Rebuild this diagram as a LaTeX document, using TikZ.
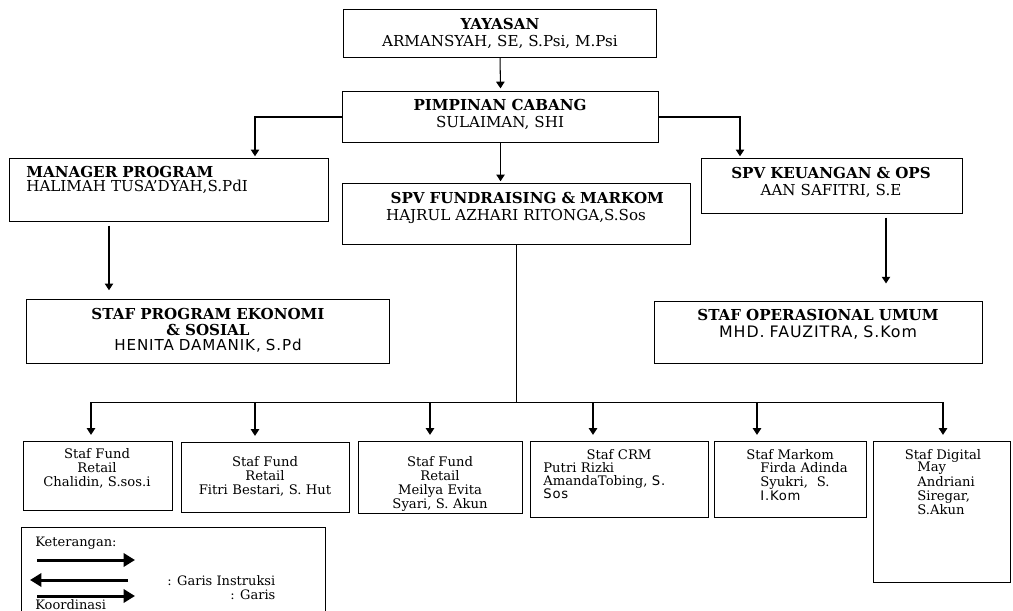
\documentclass[tikz,border=0pt]{standalone}
\usepackage{fontspec}
\setmainfont{DejaVu Serif}
\newfontfamily\dsans{DejaVu Sans}[LetterSpace=6]
\usetikzlibrary{arrows.meta,calc}
\tikzset{
    kotak/.style 2 args={draw, line width=0.6pt, anchor=north west, inner sep=0pt,
      minimum width=#1*0.02cm, minimum height=#2*0.02cm},
    teks/.style={inner sep=0pt, anchor=north, align=center, text width=#1*0.02cm},
    hd/.style={font=\fontsize{8.6}{9.7}\selectfont},
    kecil/.style={font=\fontsize{7.5}{8}\selectfont},
    lg/.style={font=\fontsize{7.4}{9}\selectfont, inner sep=0pt, anchor=base west},
    panah/.style={-{Triangle[length=3.8pt,width=4.8pt]}, line width=0.6pt},
    tebal/.style={-{Triangle[length=6.5pt,width=7.5pt]}, line width=1.7pt},
  }
\begin{document}
\begin{tikzpicture}[x=0.02cm, y=-0.02cm]
	\useasboundingbox (0,0) rectangle (1013,611);
	\clip (0,0) rectangle (1013,611);

	%YAYASAN et PIMPINAN
	\node[kotak={313}{48}] (yys) at (343,9) {};
	\node[teks=300, hd] (t-yys) at (500,18) {{\bfseries YAYASAN}\\ARMANSYAH, SE, S.Psi, M.Psi};
	\node[kotak={316}{51}] (pc) at (342,91) {};
	\node[teks=300, hd] (t-pc) at (500,99) {{\bfseries PIMPINAN CABANG}\\SULAIMAN, SHI};
	\draw[panah, shorten >=1.5pt] (yys.south) -- (pc.north);

	%MANAGER, SPV
	\node[kotak={319}{63}] (mp) at (9,158) {};
	\node[teks=310, hd, align=left, anchor=north west, font=\fontsize{8.6}{8.2}\selectfont] (t-mp) at (26,166)
	  {{\bfseries MANAGER PROGRAM}\\HALIMAH TUSA'DYAH,S.PdI};
	\node[kotak={348}{61}] (sfm) at (342,183) {};
	\node[teks=340, hd] (t-sfm) at (516,192) {{\hspace*{0.45cm}\bfseries SPV FUNDRAISING \& MARKOM}\\HAJRUL AZHARI RITONGA,S.Sos};
	\node[kotak={261}{55}] (sk) at (701,158) {};
	\node[teks=250, hd] (t-sk) at (831,167) {{\bfseries SPV KEUANGAN \& OPS}\\AAN SAFITRI, S.E};

	\coordinate (mp-in) at ($(mp.north west)+(246,0)$);
	\coordinate (sk-in) at ($(sk.north west)+(39,0)$);
	\draw[panah, shorten >=1pt] (pc.west) -| (mp-in);
	\draw[panah, shorten >=1pt] (pc.east) -| (sk-in);
	\draw[panah, shorten >=1pt] (pc.south) -- (pc.south |- sfm.north);

	%STAF
	\node[kotak={363}{64}] (spe) at (26,299) {};
	\node[teks=350, hd, font=\fontsize{8.6}{8.8}\selectfont] (t-spe) at (208,308)
	  {{\bfseries STAF PROGRAM EKONOMI}\\{\bfseries \& SOSIAL}\\{\dsans HENITA DAMANIK, S.Pd}};
	\node[kotak={328}{62}] (sou) at (654,301) {};
	\node[teks=320, hd] (t-sou) at (818,309)
	  {{\bfseries STAF OPERASIONAL UMUM}\\{\dsans\fontsize{9}{9.7}\selectfont MHD. FAUZITRA, S.Kom}};

	\coordinate (mp-out) at ($(mp.south west)+(100,0)$);
	\coordinate (sk-out) at ($(sk.south west)+(185,0)$);
	\draw[panah, shorten <=2pt, shorten >=5pt] (mp-out) -- (mp-out |- spe.north);
	\draw[panah, shorten <=2pt, shorten >=10pt] (sk-out) -- (sk-out |- sou.north);

	%staf bawah
	\node[kotak={149}{69}] (b1) at (23,441) {};
	\node[teks=140, kecil] (t-b1) at (97,448) {Staf Fund\\Retail\\Chalidin, S.sos.i};
	\node[kotak={168}{70}] (b2) at (181,442) {};
	\node[teks=160, kecil] (t-b2) at (265,456) {Staf Fund\\Retail\\Fitri Bestari, S. Hut};
	\node[kotak={164}{72}] (b3) at (358,441) {};
	\node[teks=160, kecil] (t-b3) at (440,456) {Staf Fund\\Retail\\Meilya Evita\\Syari, S. Akun};
	\node[kotak={178}{76}] (b4) at (530,441) {};
	\node[teks=170, kecil] (t-b4a) at (619,449) {Staf CRM};
	\node[teks=160, kecil, align=left, anchor=north west, font=\fontsize{7.5}{7.5}\selectfont] (t-b4b) at (543,462)
	  {Putri Rizki\\AmandaTobing, {\dsans S.}\\{\dsans Sos}};
	\node[kotak={152}{76}] (b5) at (714,441) {};
	\node[teks=150, kecil] (t-b5a) at (790,449) {Staf Markom};
	\node[teks=100, kecil, align=left, anchor=north west] (t-b5b) at (760,462)
	  {Firda Adinda\\Syukri,\ \ S.\\{\dsans I.Kom}};
	\node[kotak={137}{141}] (b6) at (873,441) {};
	\node[teks=130, kecil] (t-b6a) at (943,449) {Staf Digital};
	\node[teks=90, kecil, align=left, anchor=north west] (t-b6b) at (917,462)
	  {May\\Andriani\\Siregar,\\S.Akun};

	\coordinate (bus) at ($(sfm.south)+(0,157)$);
	\draw[line width=0.6pt] (sfm.south) -- (bus);
	\foreach \b/\dx in {b1/68, b2/74, b3/72, b4/63, b5/43, b6/70}{
	  \coordinate (\b-in) at ($(\b.north west)+(\dx,0)$);
	  \draw[panah, shorten >=3.5pt] (\b-in |- bus) -- (\b-in);
	}
	\draw[line width=0.6pt] (b1-in |- bus) -- (b6-in |- bus);

	%keterangan
	\node[kotak={304}{120}] (leg) at (21,527) {};
	\node[lg] (leg-ket) at (35,546) {Keterangan:};
	\draw[tebal] (37,560) -- (135,560);
	\draw[tebal] (128,580) -- (30,580);
	\draw[tebal] (37,596) -- (135,596);
	\node[lg] (leg-ins) at (167,585) {: Garis Instruksi};
	\node[lg] (leg-gar) at (230,599) {: Garis};
	\node[lg] (leg-koo) at (35,609) {Koordinasi};
\end{tikzpicture}
\end{document}
